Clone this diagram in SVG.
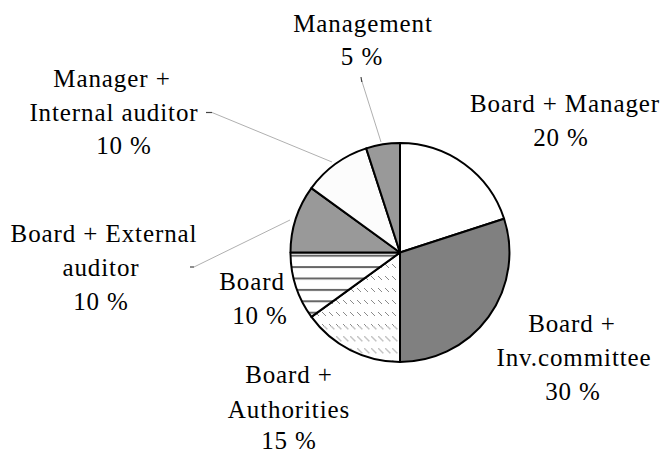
<svg xmlns="http://www.w3.org/2000/svg" width="664" height="453" viewBox="0 0 664 453">
  <style>
    .lbl { font-family: 'Liberation Serif', 'DejaVu Serif', serif; font-size: 25px; letter-spacing: 0.9px; fill: #000; text-anchor: middle; }
    .slice { stroke: #000; stroke-width: 2; stroke-linejoin: round; }
    .lead { stroke: #b0b0b0; stroke-width: 1; fill: none; }
    .tick { stroke: #444; stroke-width: 1.2; fill: none; }
  </style>
  <defs>
    <pattern id="stripes" patternUnits="userSpaceOnUse" x="0" y="254.7" width="20" height="11.4">
      <rect x="0" y="0" width="20" height="2" fill="#666"/>
    </pattern>
    <pattern id="dashA" patternUnits="userSpaceOnUse" x="0" y="0" width="7" height="12">
      <rect x="0" y="0" width="1" height="1" fill="#8a8a8a"/>
      <rect x="1" y="1" width="1" height="1" fill="#8a8a8a"/>
      <rect x="2" y="2" width="1" height="1" fill="#8a8a8a"/>
      <rect x="3" y="3" width="1" height="1" fill="#8a8a8a"/>
    </pattern>
    <pattern id="dashB" patternUnits="userSpaceOnUse" x="0" y="0" width="7" height="12">
      <rect x="0" y="0" width="1.5" height="1.5" fill="#c4c4c4"/>
      <rect x="1" y="1" width="1.5" height="1.5" fill="#c4c4c4"/>
      <rect x="2" y="2" width="1.5" height="1.5" fill="#c4c4c4"/>
      <rect x="3" y="3" width="1.5" height="1.5" fill="#c4c4c4"/>
      <rect x="4" y="4" width="1.5" height="1.5" fill="#c4c4c4"/>
    </pattern>
    <clipPath id="authClip">
      <path d="M400,252.5 L400,362 A109.5,109.5 0 0,1 311.4,316.9 Z"/>
    </clipPath>
  </defs>
  <rect width="664" height="453" fill="#fff"/>

  <g id="connectors">
    <line class="lead" x1="361.5" y1="80" x2="381" y2="142"/>
    <line class="tick" x1="361" y1="77" x2="361.8" y2="82"/>
    <line class="lead" x1="212" y1="112.5" x2="332" y2="162"/>
    <line class="tick" x1="206" y1="112.5" x2="212" y2="112.5"/>
    <line class="lead" x1="194" y1="267" x2="290" y2="220"/>
    <line class="tick" x1="190" y1="267" x2="194" y2="267"/>
  </g>

  <g id="slice-board-manager">
    <path class="slice" fill="#fff" d="M400,252.5 L400,143 A109.5,109.5 0 0,1 504.1,218.7 Z"/>
  </g>
  <g id="slice-inv-committee">
    <path class="slice" fill="#808080" d="M400,252.5 L504.1,218.7 A109.5,109.5 0 0,1 400,362 Z"/>
  </g>
  <g id="slice-authorities">
    <path fill="#fff" d="M400,252.5 L400,362 A109.5,109.5 0 0,1 311.4,316.9 Z"/>
    <g clip-path="url(#authClip)">
      <rect x="300" y="250" width="110" height="76" fill="url(#dashA)"/>
      <rect x="300" y="326" width="110" height="40" fill="url(#dashB)"/>
    </g>
    <path class="slice" fill="none" d="M400,252.5 L400,362 A109.5,109.5 0 0,1 311.4,316.9 Z"/>
  </g>
  <g id="slice-board">
    <path fill="#fff" d="M400,252.5 L311.4,316.9 A109.5,109.5 0 0,1 290.5,252.5 Z"/>
    <path fill="url(#stripes)" d="M400,252.5 L311.4,316.9 A109.5,109.5 0 0,1 290.5,252.5 Z"/>
    <path class="slice" fill="none" d="M400,252.5 L311.4,316.9 A109.5,109.5 0 0,1 290.5,252.5 Z"/>
  </g>
  <g id="slice-external-auditor">
    <path class="slice" fill="#999" d="M400,252.5 L290.5,252.5 A109.5,109.5 0 0,1 311.4,188.1 Z"/>
  </g>
  <g id="slice-internal-auditor">
    <path class="slice" fill="#fcfcfc" d="M400,252.5 L311.4,188.1 A109.5,109.5 0 0,1 366.2,148.4 Z"/>
  </g>
  <g id="slice-management">
    <path class="slice" fill="#999" d="M400,252.5 L366.2,148.4 A109.5,109.5 0 0,1 400,143 Z"/>
  </g>

  <g font-family="Liberation Serif, DejaVu Serif, serif" font-size="25">
  <g id="label-management">
    <text class="lbl" x="363" y="32">Management</text>
    <text class="lbl" x="362" y="65">5 %</text>
  </g>
  <g id="label-internal-auditor">
    <text class="lbl" x="112" y="87">Manager +</text>
    <text class="lbl" x="114" y="121">Internal auditor</text>
    <text class="lbl" x="124" y="154">10 %</text>
  </g>
  <g id="label-external-auditor">
    <text class="lbl" x="104" y="242">Board + External</text>
    <text class="lbl" x="101" y="276">auditor</text>
    <text class="lbl" x="101" y="310">10 %</text>
  </g>
  <g id="label-board">
    <text class="lbl" x="252" y="290">Board</text>
    <text class="lbl" x="260" y="324">10 %</text>
  </g>
  <g id="label-authorities">
    <text class="lbl" x="289" y="383">Board +</text>
    <text class="lbl" x="289" y="418">Authorities</text>
    <text class="lbl" x="289" y="449">15 %</text>
  </g>
  <g id="label-inv-committee">
    <text class="lbl" x="572" y="332">Board +</text>
    <text class="lbl" x="574" y="366">Inv.committee</text>
    <text class="lbl" x="573" y="400">30 %</text>
  </g>
  <g id="label-board-manager">
    <text class="lbl" x="565" y="111.5">Board + Manager</text>
    <text class="lbl" x="561" y="146">20 %</text>
  </g>
  </g>
</svg>
